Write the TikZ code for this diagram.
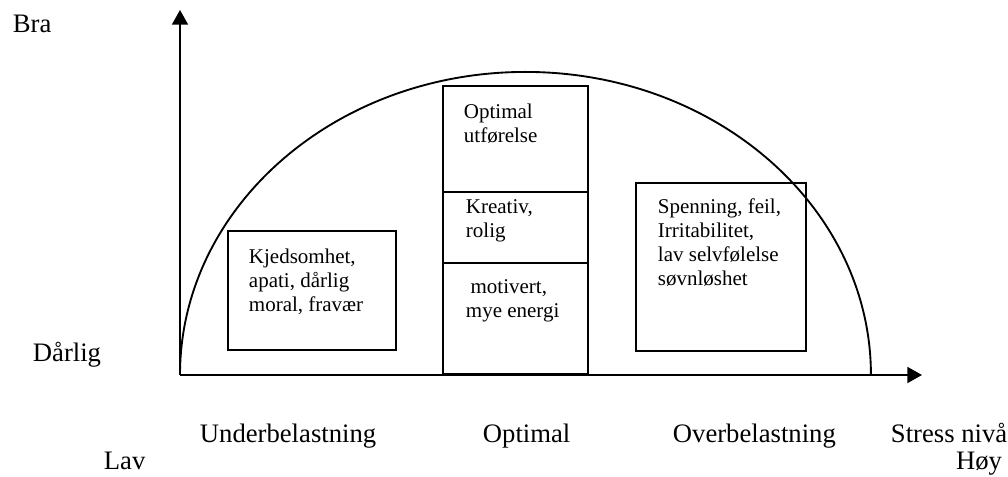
\documentclass[tikz,border=0pt]{standalone}
\usepackage{fontspec}
\setmainfont{Liberation Serif}
\usetikzlibrary{arrows.meta,positioning}

\begin{document}
\begin{tikzpicture}[x=0.75pt,y=-0.75pt,line width=1.4pt]
  \tikzset{box/.style={draw,rectangle,inner sep=0pt,outer sep=0pt,anchor=north west},
    cbox/.style={box,minimum width=108.75pt},
    txt/.style={anchor=north west,inner sep=0pt,align=left,
      font=\fontsize{15.75}{18}\selectfont},
    lbl/.style={inner sep=0pt,font=\fontsize{20}{22}\selectfont},
    axis/.style={-{Triangle[length=11pt,width=12pt]}}}
  \useasboundingbox (0,0) rectangle (1008,477);

  % axes and curve
  \coordinate (O) at (180,375);
  \coordinate (ytop) at (180,10);
  \coordinate (xend) at (922,375);
  \draw (O) arc[start angle=180,end angle=0,x radius=259.1pt,y radius=227.3pt];
  \draw[axis] (O) -- (ytop);
  \draw[axis] (O) -- (xend);

  % boxes
  \node[box,minimum width=126pt,minimum height=89.25pt] (kjed) at (228,231) {};
  \node[cbox,minimum height=79.5pt] (optu) at (443,86) {};
  \node[cbox,minimum height=53.25pt,below=0pt of optu] (krea) {};
  \node[cbox,minimum height=83.25pt,below=0pt of krea] (moti) {};
  \node[box,minimum width=127.5pt,minimum height=126pt] (spen) at (636,183) {};

  \node[txt] (kjedt) at ([shift={(20,17)}]kjed.north west) {Kjedsomhet,\\apati, dårlig\\moral, fravær};
  \node[txt] (optut) at ([shift={(20,17)}]optu.north west) {Optimal\\utførelse};
  \node[txt] (kreat) at ([shift={(22,7)}]krea.north west) {Kreativ,\\rolig};
  \node[txt] (motit) at ([shift={(22,16)}]moti.north west) {\hspace*{3.5pt}motivert,\\mye energi};
  \node[txt] (spent) at ([shift={(21,15)}]spen.north west) {Spenning, feil,\\Irritabilitet,\\lav selvfølelse\\søvnløshet};

  % axis labels
  \node[lbl,anchor=base west] (bra) at (12,33) {Bra};
  \node[lbl,anchor=base west] (darlig) at (32,362) {Dårlig};
  \node[lbl,anchor=base west] (under) at (199,443) {Underbelastning};
  \node[lbl,anchor=base west] (optimal) at (482,443) {Optimal};
  \node[lbl,anchor=base west] (over) at (672,443) {Overbelastning};
  \node[lbl,anchor=base west] (stress) at (890,443) {Stress nivå};
  \node[lbl,anchor=base west] (lav) at (103,470) {Lav};
  \node[lbl,anchor=base east] (hoy) at (1003,470) {Høy};
\end{tikzpicture}
\end{document}
